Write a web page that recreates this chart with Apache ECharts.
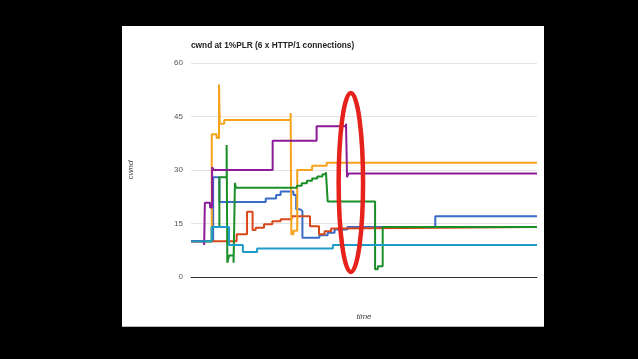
<!DOCTYPE html>
<html>
<head>
<meta charset="utf-8">
<script src="https://cdn.jsdelivr.net/npm/echarts@6/dist/echarts.min.js"></script>
<style>
html,body{margin:0;padding:0;background:#000;}
#c{width:638px;height:359px;}
</style>
</head>
<body>
<div id="c"></div>
<script>
// ---- data (time in relative units 0..100, cwnd values) ----
const yTicks = [0, 15, 30, 45, 60];
const seriesNames = ['conn 1', 'conn 2', 'conn 3', 'conn 4', 'conn 5', 'conn 6'];

const blueT = [0, 6.4, 8.2, 21.6, 24.6, 25.9, 29.6, 30.4, 31.5, 32.2, 37.1, 39.5, 41.5, 45.2, 70.6, 100];
const blueV = [10, 28, 21, 22, 23, 24, 23, 19, 18.5, 11, 11.7, 12.4, 13.3, 14, 17, 17];

const redT = [0, 13.2, 16.2, 17.8, 18.7, 21.1, 23.5, 25.9, 29.1, 34.4, 37.0, 38.6, 40.5, 42.0, 100];
const redV = [10, 12, 18.3, 13.2, 13.8, 14.8, 15.6, 16.2, 17, 14.2, 12, 12.8, 13.6, 14, 14];

const orangeT = [0, 6.0, 7.4, 8.1, 8.3, 9.6, 28.8, 29.0, 29.6, 30.7, 35.0, 39.2, 100];
const orangeV = [10, 40, 39, 54, 43, 44, 46, 12, 13, 30, 31.2, 32, 32];

const greenT = [0, 6.0, 8.2, 10.3, 10.5, 11.0, 12.3, 12.7, 13.0, 30.6, 32.0, 33.5, 35.0, 36.5, 38.0, 39.0, 39.5, 53.2, 54.0, 55.4, 100];
const greenV = [10, 14, 28, 37, 4, 6, 4, 26.4, 25, 25.6, 26.3, 27, 27.6, 28.2, 28.8, 29.4, 21.2, 2.2, 3, 14, 14];

const purpleT = [0, 3.8, 4.0, 5.5, 6.1, 6.6, 23.6, 36.3, 44.8, 45.1, 45.5, 100];
const purpleV = [10, 9, 20.8, 19.5, 30.8, 30, 38.2, 42.3, 43, 28, 29, 29];

const tealT = [0, 6.0, 11.0, 15.0, 19.1, 41.0, 100];
const tealV = [10, 14, 9, 7, 8, 9, 9];

const colors = ['#3a6bc6', '#d8471a', '#f7a21b', '#1a8f27', '#8c1b98', '#1e9bc8'];

// annotation ellipse centre in data units
const ellipseCenter = [46.2, 26.5];

function pairs(t, v) { return t.map((x, i) => [x, v[i]]); }
const allT = [blueT, redT, orangeT, greenT, purpleT, tealT];
const allV = [blueV, redV, orangeV, greenV, purpleV, tealV];

const chart = echarts.init(document.getElementById('c'), null, {renderer: 'canvas'});
const FONT = '"Liberation Sans", Arial, sans-serif';

const panel = [
  {type: 'rect', z: -10, silent: true, shape: {x: 122, y: 26, width: 422, height: 301}, style: {fill: '#fff'}},
  {type: 'rect', z: -9, silent: true, shape: {x: 122, y: 326, width: 422, height: 1}, style: {fill: '#bdbdbd'}}
];

const option = {
  backgroundColor: '#000',
  animation: false,
  title: {
    text: 'cwnd at 1%PLR (6 x HTTP/1 connections)',
    left: 191, top: 42, padding: 0,
    textStyle: {fontFamily: FONT, fontSize: 8.3, fontWeight: 'bold', color: '#222'}
  },
  graphic: panel,
  grid: {left: 191, right: 101, top: 63, bottom: 82},
  xAxis: {
    type: 'value', min: 0, max: 100,
    name: 'time', nameLocation: 'middle', nameGap: 36,
    nameTextStyle: {fontFamily: FONT, fontSize: 8, fontStyle: 'italic', color: '#444'},
    axisLine: {show: true, lineStyle: {color: '#333', width: 1}},
    axisTick: {show: false}, axisLabel: {show: false}, splitLine: {show: false}
  },
  yAxis: {
    type: 'value', min: yTicks[0], max: yTicks[yTicks.length - 1], interval: 15,
    name: 'cwnd', nameLocation: 'middle', nameGap: 56,
    nameTextStyle: {fontFamily: FONT, fontSize: 8, fontStyle: 'italic', color: '#444'},
    axisLine: {show: false}, axisTick: {show: false},
    axisLabel: {fontFamily: FONT, fontSize: 8, color: '#555', margin: 8},
    splitLine: {lineStyle: {color: '#e3e3e3', width: 1}}
  },
  series: allT.map((t, i) => ({
    name: seriesNames[i], type: 'line', step: 'end', symbol: 'none',
    data: pairs(t, allV[i]),
    lineStyle: {color: colors[i], width: 2},
    itemStyle: {color: colors[i]},
    z: 2 + i
  }))
};
chart.setOption(option);

const c = chart.convertToPixel({gridIndex: 0}, ellipseCenter);
chart.setOption({
  graphic: panel.concat([
    {type: 'ellipse', z: 100, silent: true, shape: {cx: c[0], cy: c[1], rx: 12.2, ry: 89.4},
     style: {fill: 'none', stroke: '#e5221b', lineWidth: 4.5}}
  ])
});
</script>
</body>
</html>
